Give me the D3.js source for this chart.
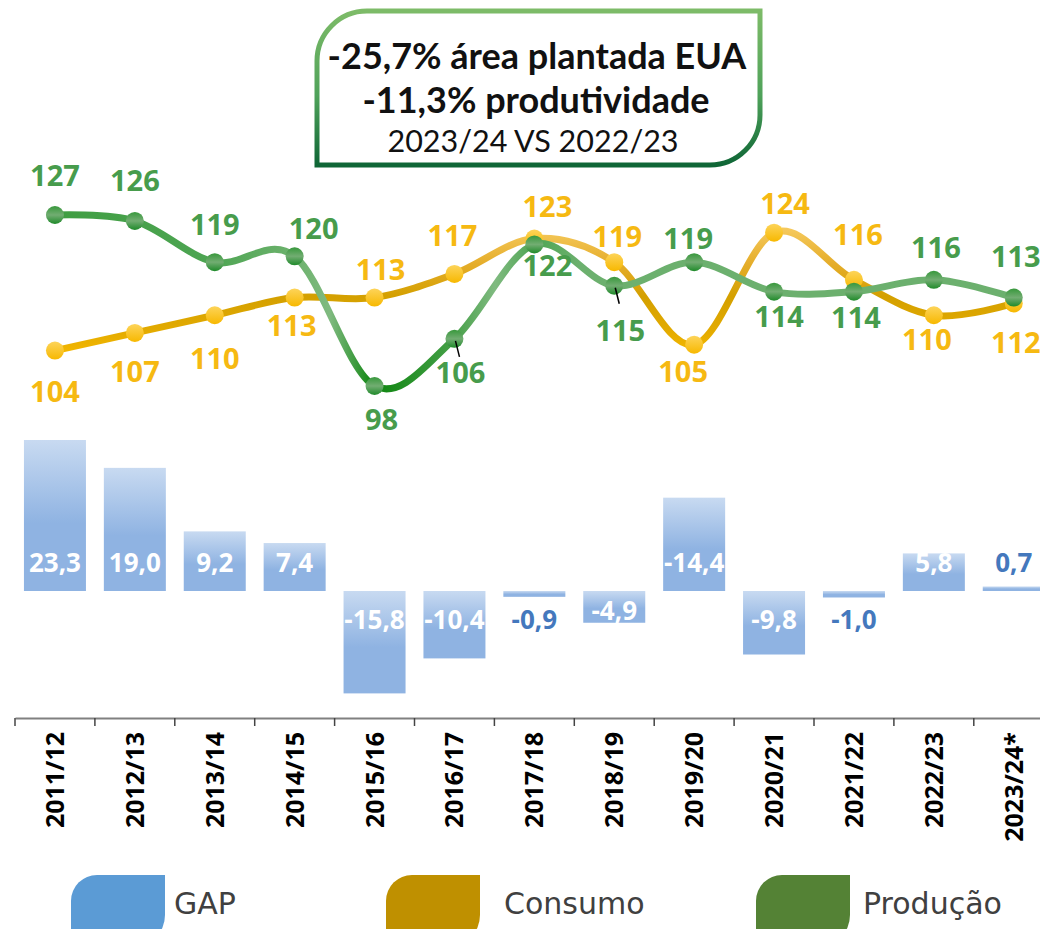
<!DOCTYPE html>
<html>
<head>
<meta charset="utf-8">
<script src="https://cdn.jsdelivr.net/npm/d3@7"></script>
<style>
  body { margin: 0; background: #fff; }
  svg { display: block; }
</style>
</head>
<body>
<div id="chart"></div>
<script>
// Data
const categories = ['2011/12', '2012/13', '2013/14', '2014/15', '2015/16', '2016/17', '2017/18',
  '2018/19', '2019/20', '2020/21', '2021/22', '2022/23', '2023/24*']
const gapValues = [23.3, 19.0, 9.2, 7.4, -15.8, -10.4, -0.9, -4.9, 14.4, -9.8, -1.0, 5.8, 0.7]
const gapLabels = ['23,3', '19,0', '9,2', '7,4', '-15,8', '-10,4', '-0,9', '-4,9', '-14,4', '-9,8', '-1,0', '5,8', '0,7']
const consumo = [104, 107, 110, 113, 113, 117, 123, 119, 105, 124, 116, 110, 112]
const producao = [127, 126, 119, 120, 98, 106, 122, 115, 119, 114, 114, 116, 113]
const legendItems = ['GAP', 'Consumo', 'Produção']
const titleLines = ['-25,7% área plantada EUA', '-11,3% produtividade', '2023/24 VS 2022/23']

// label nudges (layout only)
const prodLabelOffset = [[0, -29], [0, -30], [0, -27], [19, -17], [7, 44], [6, 44], [13, 32],
  [6, 55], [-6, -13], [5, 35], [2, 36], [2, -22], [2, -31]]
const consLabelOffset = [[0, 51], [0, 49], [0, 54], [-3, 38], [6, -18], [-2, -28], [13, -22],
  [3, -15], [-11, 37], [11, -19], [4, -35], [-7, 35], [2, 50]]
const prodLeaders = [5, 7]

const width = 1040
const height = 929
const labelFont = "'Open Sans', 'DejaVu Sans', sans-serif"

const svg = d3.select('#chart')
  .append('svg')
  .attr('width', width)
  .attr('height', height)

svg.append('rect')
  .attr('width', width)
  .attr('height', height)
  .attr('fill', '#fff')

const defs = svg.append('defs')

// Gradients
function vGrad(id, stops) {
  const g = defs.append('linearGradient')
    .attr('id', id)
    .attr('x1', 0).attr('y1', 0).attr('x2', 0).attr('y2', 1)
  stops.forEach(s => g.append('stop').attr('offset', s[0]).attr('stop-color', s[1]))
  return g
}
vGrad('bar-grad', [['0%', '#c8daf1'], ['55%', '#8fb3e2'], ['100%', '#8fb3e2']])
vGrad('box-grad', [['0%', '#7dbb68'], ['55%', '#4fa25a'], ['100%', '#0f6636']])
vGrad('prod-dot', [['0%', '#38983c'], ['50%', '#72ad72'], ['100%', '#1f8a2a']])
vGrad('cons-dot', [['0%', '#fdd45a'], ['100%', '#f7b800']])

// x scale
const x = d3.scaleBand()
  .domain(categories)
  .range([15, 15 + 79.9 * categories.length])
  .padding(0)
const cx = d => x(d) + x.bandwidth() / 2

// line scales
const yLine = d3.scaleLinear().domain([98, 127]).range([386, 215])
const yBar = d3.scaleLinear().domain([0, 23.3]).range([591, 440])

// line gradients
const pg = defs.append('linearGradient')
  .attr('id', 'prod-line')
  .attr('gradientUnits', 'userSpaceOnUse')
  .attr('x1', 0).attr('x2', width).attr('y1', 0).attr('y2', 0)
;[[0, '#3a9b3c'], [214, '#4ea553'], [300, '#6fb36f'], [330, '#80ba80'], [374, '#0d850f'],
  [454, '#46a048'], [495, '#80ba80'], [534, '#4ea553'], [580, '#6cb06e'], [1040, '#6cb06e']]
  .forEach(s => pg.append('stop').attr('offset', s[0] / width).attr('stop-color', s[1]))

const cg = defs.append('linearGradient')
  .attr('id', 'cons-line')
  .attr('gradientUnits', 'userSpaceOnUse')
  .attr('x1', 0).attr('x2', 0).attr('y1', 225).attr('y2', 355)
;[[0, '#f7cc62'], [0.3, '#e5ad2a'], [0.55, '#d4a000'], [0.8, '#e2aa00'], [1, '#f5b800']]
  .forEach(s => cg.append('stop').attr('offset', s[0]).attr('stop-color', s[1]))

// Title box (round diagonal corners)
const bx0 = 317, bx1 = 760, by0 = 11, by1 = 165, br = 50
svg.append('path')
  .attr('d', `M${bx0},${by0 + br} A${br},${br} 0 0 1 ${bx0 + br},${by0} L${bx1},${by0} L${bx1},${by1 - br}
    A${br},${br} 0 0 1 ${bx1 - br},${by1} L${bx0},${by1} Z`)
  .attr('fill', '#fff')
  .attr('stroke', 'url(#box-grad)')
  .attr('stroke-width', 5)

const title = svg.append('g')
  .attr('font-family', "Lato, 'Open Sans', sans-serif")
  .attr('text-anchor', 'middle')
  .attr('fill', '#111')
title.append('text').attr('x', 537).attr('y', 69)
  .attr('font-size', 36).attr('font-weight', 700).text(titleLines[0])
title.append('text').attr('x', 536).attr('y', 113)
  .attr('font-size', 36).attr('font-weight', 700).text(titleLines[1])
title.append('text').attr('x', 533).attr('y', 152)
  .attr('font-size', 30.5).attr('font-weight', 400).text(titleLines[2])

// Bars
const barW = 62
svg.append('g')
  .selectAll('rect')
  .data(gapValues)
  .join('rect')
  .attr('x', (d, i) => cx(categories[i]) - barW / 2)
  .attr('y', d => Math.min(yBar(d), yBar(0)))
  .attr('width', barW)
  .attr('height', d => Math.abs(yBar(d) - yBar(0)))
  .attr('fill', 'url(#bar-grad)')

const small = d => Math.abs(d) < 2
svg.append('g')
  .attr('font-family', labelFont)
  .attr('font-weight', 700)
  .attr('font-size', 26)
  .attr('text-anchor', 'middle')
  .selectAll('text')
  .data(gapValues)
  .join('text')
  .attr('x', (d, i) => cx(categories[i]))
  .attr('y', d => d >= 0 ? yBar(0) - 19
    : small(d) ? yBar(0) + 38 : Math.min(yBar(0) + 38, yBar(d) - 3))
  .attr('fill', d => small(d) ? '#4478bd' : '#fff')
  .text((d, i) => gapLabels[i])

// Axis
const axisY = 718
const axis = svg.append('g')
  .attr('transform', `translate(0,${axisY})`)
  .call(d3.axisBottom(x).tickSize(0).tickSizeOuter(0))
axis.select('.domain').attr('stroke', '#808080').attr('stroke-width', 2)
axis.selectAll('.tick text')
  .attr('transform', 'rotate(-90)')
  .attr('x', -14)
  .attr('y', 0)
  .attr('dy', '0.36em')
  .attr('text-anchor', 'end')
  .attr('font-family', labelFont)
  .attr('font-weight', 700)
  .attr('font-size', 25)
  .attr('fill', '#000')

svg.append('g')
  .selectAll('line')
  .data(categories)
  .join('line')
  .attr('x1', d => x(d))
  .attr('x2', d => x(d))
  .attr('y1', axisY)
  .attr('y2', axisY + 8)
  .attr('stroke', '#444')
  .attr('stroke-width', 1.5)

// Lines
const line = vals => d3.line()
  .x((d, i) => cx(categories[i]))
  .y(d => yLine(d))
  .curve(d3.curveCatmullRom.alpha(0))(vals)

svg.append('path')
  .attr('d', line(consumo))
  .attr('fill', 'none')
  .attr('stroke', 'url(#cons-line)')
  .attr('stroke-width', 7)
  .attr('stroke-linecap', 'round')

svg.append('g')
  .selectAll('circle')
  .data(consumo)
  .join('circle')
  .attr('cx', (d, i) => cx(categories[i]))
  .attr('cy', d => yLine(d))
  .attr('r', 9)
  .attr('fill', 'url(#cons-dot)')

svg.append('path')
  .attr('d', line(producao))
  .attr('fill', 'none')
  .attr('stroke', 'url(#prod-line)')
  .attr('stroke-width', 7)
  .attr('stroke-linecap', 'round')

svg.append('g')
  .selectAll('circle')
  .data(producao)
  .join('circle')
  .attr('cx', (d, i) => cx(categories[i]))
  .attr('cy', d => yLine(d))
  .attr('r', 9)
  .attr('fill', 'url(#prod-dot)')

// leader lines
svg.append('g')
  .selectAll('line')
  .data(prodLeaders)
  .join('line')
  .attr('x1', i => cx(categories[i]) + 1)
  .attr('y1', i => yLine(producao[i]) + 2)
  .attr('x2', i => cx(categories[i]) + 5)
  .attr('y2', i => yLine(producao[i]) + 18)
  .attr('stroke', '#000')
  .attr('stroke-width', 1.5)

// Line labels
function lineLabels(vals, offs, color) {
  svg.append('g')
    .attr('font-family', labelFont)
    .attr('font-weight', 700)
    .attr('font-size', 29)
    .attr('text-anchor', 'middle')
    .attr('fill', color)
    .selectAll('text')
    .data(vals)
    .join('text')
    .attr('x', (d, i) => cx(categories[i]) + offs[i][0])
    .attr('y', (d, i) => yLine(d) + offs[i][1])
    .text(d => d)
}
lineLabels(consumo, consLabelOffset, '#f6b912')
lineLabels(producao, prodLabelOffset, '#479c4c')

// Legend
const legendColors = ['#5b9bd5', '#bf9000', '#548235']
const legendX = [71, 386, 756]
const legendTextX = [174, 504, 863]
const lw = 94, lh = 72, lr = 26
const legend = svg.append('g')
legendItems.forEach((name, i) => {
  const x0 = legendX[i], y0 = 875
  legend.append('path')
    .attr('d', `M${x0},${y0 + lr} A${lr},${lr} 0 0 1 ${x0 + lr},${y0} L${x0 + lw},${y0} L${x0 + lw},${y0 + lh - lr - 6}
      A${lr + 6},${lr + 6} 0 0 1 ${x0 + lw - lr - 6},${y0 + lh} L${x0},${y0 + lh} Z`)
    .attr('fill', legendColors[i])
  legend.append('text')
    .attr('x', legendTextX[i])
    .attr('y', 914)
    .attr('font-family', "'DejaVu Sans', sans-serif")
    .attr('font-size', 30)
    .attr('fill', '#404040')
    .text(name)
})
</script>
</body>
</html>
